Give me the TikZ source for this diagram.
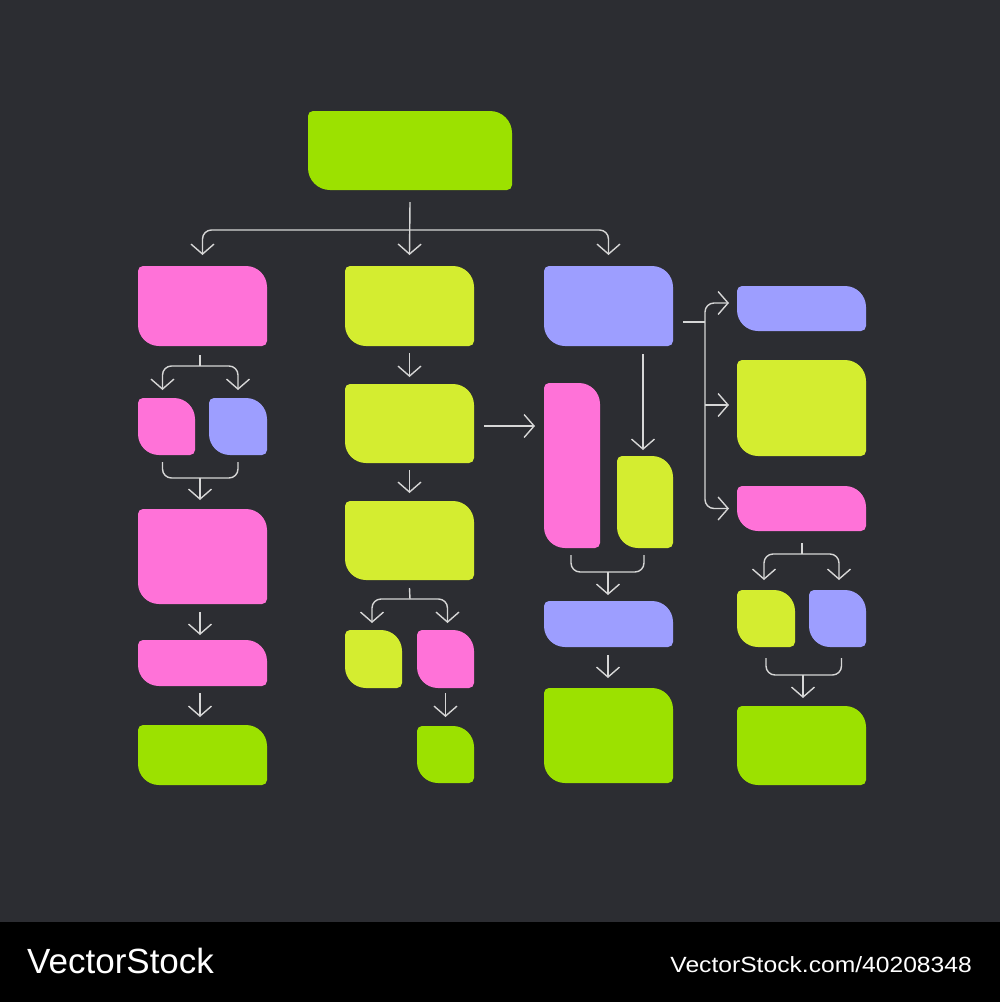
\documentclass[tikz,border=0pt]{standalone}
\usepackage{fontspec}
\usepackage{graphicx}
\usetikzlibrary{arrows.meta,calc}
\newfontfamily\logofont{Liberation Sans}
\definecolor{bg}{HTML}{2C2D32}
\definecolor{cgreen}{HTML}{9CE100}
\definecolor{clime}{HTML}{D4ED30}
\definecolor{cpink}{HTML}{FF72D8}
\definecolor{clav}{HTML}{9D9EFF}
\definecolor{lc}{HTML}{D6D6D6}
\newcommand\smR{5pt}
\newcommand\bigR{21pt}
\tikzset{
  setR/.code={\renewcommand\bigR{#1}},
  wh/.style 2 args={minimum width=#1, minimum height=#2},
  blob/.style={rectangle, inner sep=0pt, outer sep=0pt,
    path picture={\fill[#1] let \p1=(path picture bounding box.south west),
        \p2=(path picture bounding box.north east) in
        ({\x1+\smR},\y2) -- ({\x2-\bigR},\y2)
        arc[start angle=90,end angle=0,radius=\bigR] -- (\x2,{\y1+\smR})
        arc[start angle=0,end angle=-90,radius=\smR] -- ({\x1+\bigR},\y1)
        arc[start angle=270,end angle=180,radius=\bigR] -- (\x1,{\y2-\smR})
        arc[start angle=180,end angle=90,radius=\smR] -- cycle;}},
  line/.style={draw=lc, line width=1.4pt},
  arr/.style={line, -{Straight Barb[length=10pt,width=23pt]}},
  dbl/.style={line, rounded corners=9pt, {Straight Barb[length=10pt,width=23pt]}-{Straight Barb[length=10pt,width=23pt]}},
  jn/.style={line, rounded corners=9pt}
}
\begin{document}
\begin{tikzpicture}[x=1pt,y=1pt]
\useasboundingbox (0,0) rectangle (1000,-1002);
\fill[bg] (0,0) rectangle (1000,-922);
\fill[black] (0,-922) rectangle (1000,-1002);

% nodes
\node[blob=cgreen, wh={204}{79}, setR=22pt] (top) at (410,-150.5) {};
% column 1
\node[blob=cpink, wh={129}{80}] (a1) at (202.5,-306) {};
\node[blob=cpink, wh={57}{57}] (a2) at (166.5,-426.5) {};
\node[blob=clav, wh={58}{57}] (a3) at (238,-426.5) {};
\node[blob=cpink, wh={129}{95}] (a4) at (202.5,-556.5) {};
\node[blob=cpink, wh={129}{46}] (a5) at (202.5,-663) {};
\node[blob=cgreen, wh={129}{60}] (a6) at (202.5,-755) {};
% column 2
\node[blob=clime, wh={129}{80}] (b1) at (409.5,-306) {};
\node[blob=clime, wh={129}{79}] (b2) at (409.5,-423.5) {};
\node[blob=clime, wh={129}{79}] (b3) at (409.5,-540.5) {};
\node[blob=clime, wh={57}{58}] (b4) at (373.5,-659) {};
\node[blob=cpink, wh={57}{58}] (b5) at (445.5,-659) {};
\node[blob=cgreen, wh={57}{57}] (b6) at (445.5,-754.5) {};
% column 3
\node[blob=clav, wh={129}{80}] (c1) at (608.5,-306) {};
\node[blob=cpink, wh={56}{165}] (c2) at (572,-465.5) {};
\node[blob=clime, wh={56}{92}] (c3) at (645,-502) {};
\node[blob=clav, wh={129}{46}] (c4) at (608.5,-624) {};
\node[blob=cgreen, wh={129}{95}] (c5) at (608.5,-735.5) {};
% column 4
\node[blob=clav, wh={129}{45}] (d1) at (801.5,-308.5) {};
\node[blob=clime, wh={129}{96}] (d2) at (801.5,-408) {};
\node[blob=cpink, wh={129}{45}] (d3) at (801.5,-508.5) {};
\node[blob=clime, wh={58}{57}] (d4) at (766,-618.5) {};
\node[blob=clav, wh={57}{57}] (d5) at (837.5,-618.5) {};
\node[blob=cgreen, wh={129}{79}] (d6) at (801.5,-745.5) {};

% junction coordinates
\coordinate (bus) at (410,-230);
\coordinate (sa) at (200,-366);
\coordinate (ma) at (200,-478);
\coordinate (sb) at (410,-599);
\coordinate (mc) at (608,-572);
\coordinate (st) at (705,-322);
\coordinate (sp) at (705,-405);
\coordinate (sd) at (802,-554);
\coordinate (md) at (803,-675);

% top
\draw[arr] ([yshift=-12]top.south) -- ([yshift=11]b1.north);
\draw[dbl] ([yshift=11]a1.north) |- (bus) -| ([yshift=11]c1.north);

% column 1
\draw[line] ($(a1.south -| sa)+(0,-9)$) -- (sa);
\draw[dbl] ($(a2.north)+(-4,8)$) |- (sa) -| ([yshift=8]a3.north);
\draw[jn] ($(a2.south)+(-4,-7)$) |- (ma) -| ([yshift=-7]a3.south);
\draw[arr] (ma) -- ($(ma |- a4.north)+(0,9)$);
\draw[arr] ($(a4.south -| ma)+(0,-8)$) -- ($(a5.north -| ma)+(0,5)$);
\draw[arr] ($(a5.south -| ma)+(0,-7)$) -- ($(a6.north -| ma)+(0,8)$);

% column 2
\draw[arr] ([yshift=-7]b1.south) -- ([yshift=7]b2.north);
\draw[arr] ([yshift=-7]b2.south) -- ([yshift=8]b3.north);
\draw[line] ([yshift=-8]b3.south) -- (sb);
\draw[dbl] ($(b4.north)+(-1.5,7)$) |- (sb) -| ($(b5.north)+(2,7)$);
\draw[arr] ([yshift=-5]b5.south) -- ([yshift=9]b6.north);
\draw[arr] ($(b2.east)+(10,-2.5)$) -- ($(c2.west |- b2.east)+(-9,-2.5)$);

% column 3
\draw[arr] ($(c3.north |- c1.south)+(-2,-8)$) -- ($(c3.north)+(-2,6)$);
\draw[jn] ($(c2.south)+(-1,-7)$) |- (mc) -| ($(c3.south)+(-1,-7)$);
\draw[arr] (mc) -- ($(mc |- c4.north)+(0,6)$);
\draw[arr] ($(c4.south -| mc)+(0,-8)$) -- ($(c5.north -| mc)+(0,10)$);

% column 4
\draw[line] ($(c1.east)+(10,-16)$) -- (st);
\draw[dbl] ($(d1.west)+(-8,5.5)$) -| (sp) |- ($(d3.west)+(-8,0)$);
\draw[arr] (sp) -- ($(d2.west |- sp)+(-8,0)$);
\draw[line] ([yshift=-12]d3.south -| sd) -- (sd);
\draw[dbl] ($(d4.north)+(-2,10)$) |- (sd) -| ($(d5.north)+(1.5,10)$);
\draw[jn] ($(d4.south)+(0,-11)$) |- (md) -| ($(d5.south)+(4,-11)$);
\draw[arr] (md) -- ($(md |- d6.north)+(0,8)$);

% footer
\node[anchor=base west, inner sep=0pt, text=white, font=\logofont\fontsize{35}{35}\selectfont] (logo) at (27,-973) {VectorStock};
\node[anchor=base east, inner sep=0pt, text=white, font=\logofont\fontsize{22}{22}\selectfont] (url) at (972,-972) {\scalebox{1.12}[1]{VectorStock.com/40208348}};
\end{tikzpicture}
\end{document}
